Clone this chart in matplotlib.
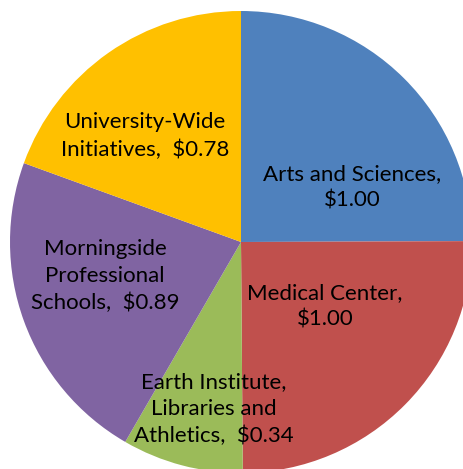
import matplotlib
matplotlib.use("Agg")
import matplotlib.pyplot as plt
import numpy as np

categories = ["Arts and Sciences", "Medical Center",
              "Earth Institute,\nLibraries and\nAthletics",
              "Morningside\nProfessional\nSchools",
              "University-Wide\nInitiatives"]
values = [1.00, 1.00, 0.34, 0.89, 0.78]
separators = ["\n", "\n", "  ", "  ", "  "]
colors = ["#4F81BD", "#C0504D", "#9BBB59", "#8064A2", "#FFC000"]
label_pos = [(0.481, 0.238), (0.364, -0.277), (-0.117, -0.723),
             (-0.589, -0.147), (-0.416, 0.459)]

W, H = 464, 469
cx, cy, R = 241, 242, 231
fig = plt.figure(figsize=(W / 100, H / 100), dpi=100)
ax = fig.add_axes([(cx - R) / W, (H - cy - R) / H, 2 * R / W, 2 * R / H])
ax.pie(values, colors=colors, startangle=90, counterclock=False, radius=1,
       wedgeprops=dict(linewidth=0))
ax.set_xlim(-1, 1)
ax.set_ylim(-1, 1)
ax.set_aspect("equal")
ax.axis("off")

for cat, v, sep, (x, y) in zip(categories, values, separators, label_pos):
    ax.text(x, y, f"{cat},{sep}\\${v:.2f}", ha="center", va="center",
            fontsize=16, family=["Lato", "DejaVu Sans"], linespacing=1.42,
            color="black")

fig.savefig("out.png", dpi=100)
